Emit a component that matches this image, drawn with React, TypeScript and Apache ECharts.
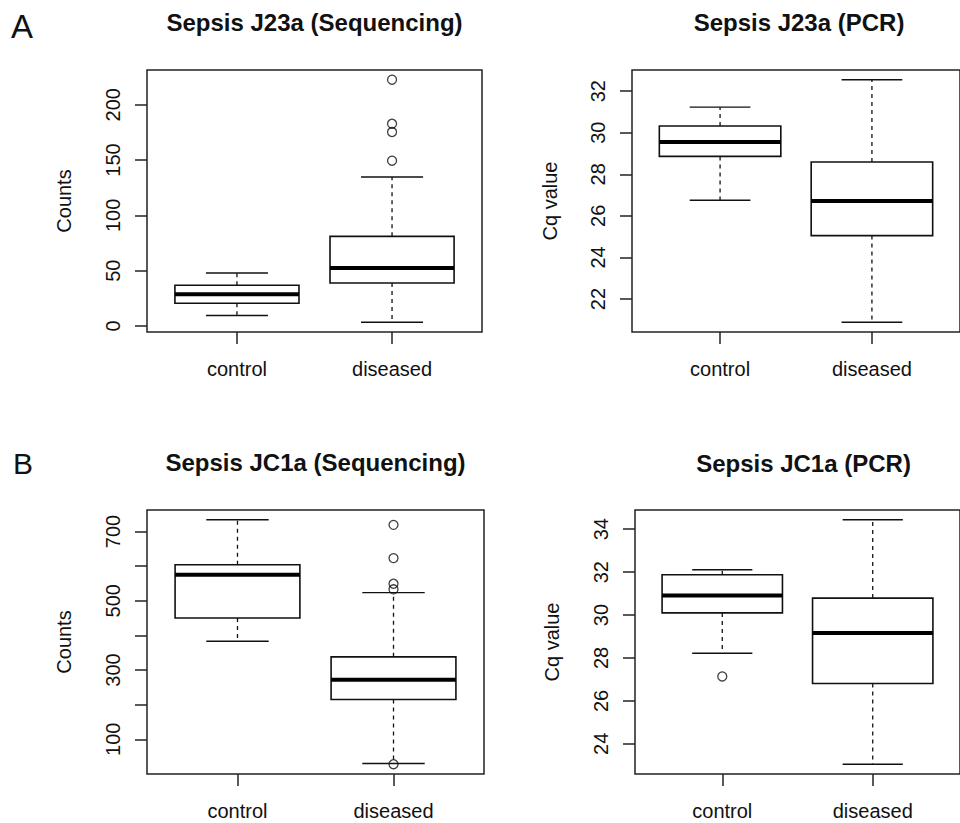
import React, { useEffect, useRef } from "react";
import * as echarts from "echarts";

// ---------- data ----------
const categories = ["control", "diseased"];

// [min whisker, Q1, median, Q3, max whisker] per category
const j23aSeqStats = [
  [9.4, 20.5, 28.6, 36.8, 47.9],
  [3.3, 38.8, 52.4, 81.0, 134.6],
];
const j23aSeqOutliers = [[], [222.6, 182.8, 175.3, 149.4]];
const j23aSeqTicks = [0, 50, 100, 150, 200];
const j23aSeqLabels = [0, 50, 100, 150, 200];

const j23aPcrStats = [
  [26.75, 28.86, 29.55, 30.32, 31.23],
  [20.88, 25.05, 26.71, 28.59, 32.55],
];
const j23aPcrOutliers = [[], []];
const j23aPcrTicks = [22, 24, 26, 28, 30, 32];
const j23aPcrLabels = [22, 24, 26, 28, 30, 32];

const jc1aSeqStats = [
  [383, 450, 575, 604, 733.7],
  [30, 215, 271.7, 338, 523.5],
];
const jc1aSeqOutliers = [[], [719, 623, 549, 533, 28]];
const jc1aSeqTicks = [100, 200, 300, 400, 500, 600, 700];
const jc1aSeqLabels = [100, 300, 500, 700];

const jc1aPcrStats = [
  [28.22, 30.1, 30.91, 31.88, 32.11],
  [23.05, 26.81, 29.16, 30.79, 34.44],
];
const jc1aPcrOutliers = [[27.14], []];
const jc1aPcrTicks = [24, 26, 28, 30, 32, 34];
const jc1aPcrLabels = [24, 26, 28, 30, 32, 34];

const categoryTicks = [1, 2];

const panelTitles = [
  "Sepsis J23a (Sequencing)",
  "Sepsis J23a (PCR)",
  "Sepsis JC1a (Sequencing)",
  "Sepsis JC1a (PCR)",
];
const yNames = ["Counts", "Cq value", "Counts", "Cq value"];
const panelLetters = ["A", "B"];

// ---------- layout ----------
const FONT = '"Liberation Sans", Arial, Helvetica, sans-serif';
const TICK_LEN = 12;
const grids = [
  { left: 147, top: 70, width: 335, height: 262, nameGap: 73, titleX: 314.5, titleY: 22 },
  { left: 632, top: 70, width: 335, height: 262, nameGap: 72, titleX: 799, titleY: 22 },
  { left: 147, top: 510, width: 337, height: 264, nameGap: 73, titleX: 315.5, titleY: 462 },
  { left: 635, top: 510, width: 337, height: 264, nameGap: 73, titleX: 803.5, titleY: 463 },
];

const panels = [
  { stats: j23aSeqStats, outliers: j23aSeqOutliers, ticks: j23aSeqTicks, labels: j23aSeqLabels },
  { stats: j23aPcrStats, outliers: j23aPcrOutliers, ticks: j23aPcrTicks, labels: j23aPcrLabels },
  { stats: jc1aSeqStats, outliers: jc1aSeqOutliers, ticks: jc1aSeqTicks, labels: jc1aSeqLabels },
  { stats: jc1aPcrStats, outliers: jc1aPcrOutliers, ticks: jc1aPcrTicks, labels: jc1aPcrLabels },
];

function rRange(stats: number[][], outliers: number[][]): [number, number] {
  const all: number[] = [];
  stats.forEach((s) => all.push(...s));
  outliers.forEach((o) => all.push(...o));
  const lo = Math.min(...all);
  const hi = Math.max(...all);
  const ext = (hi - lo) * 0.04;
  return [lo - ext, hi + ext];
}

function renderBox(params: any, api: any) {
  const x = api.value(0);
  const pMin = api.coord([x, api.value(1)]);
  const pQ1 = api.coord([x, api.value(2)]);
  const pMed = api.coord([x, api.value(3)]);
  const pQ3 = api.coord([x, api.value(4)]);
  const pMax = api.coord([x, api.value(5)]);
  const halfW = api.size([0.4, 0])[0];
  const capHalf = api.size([0.2, 0])[0];
  const cx = pMed[0];
  const solid = { stroke: "#111", lineWidth: 1.4, fill: null };
  const dashed = { stroke: "#111", lineWidth: 1.3, lineDash: [4, 4], fill: null };
  return {
    type: "group",
    children: [
      { type: "line", shape: { x1: cx, y1: pQ1[1], x2: cx, y2: pMin[1] }, style: dashed },
      { type: "line", shape: { x1: cx, y1: pQ3[1], x2: cx, y2: pMax[1] }, style: dashed },
      { type: "line", shape: { x1: cx - capHalf, y1: pMin[1], x2: cx + capHalf, y2: pMin[1] }, style: solid },
      { type: "line", shape: { x1: cx - capHalf, y1: pMax[1], x2: cx + capHalf, y2: pMax[1] }, style: solid },
      {
        type: "rect",
        shape: { x: cx - halfW, y: pQ3[1], width: halfW * 2, height: pQ1[1] - pQ3[1] },
        style: { stroke: "#111", lineWidth: 1.6, fill: "#fff" },
      },
      {
        type: "line",
        shape: { x1: cx - halfW, y1: pMed[1], x2: cx + halfW, y2: pMed[1] },
        style: { stroke: "#000", lineWidth: 4 },
      },
    ],
  };
}

export default function App() {
  const ref = useRef<HTMLDivElement>(null);

  useEffect(() => {
    if (!ref.current) return;
    const chart = echarts.init(ref.current, null, { renderer: "svg" });

    const gridOpts: any[] = [];
    const xAxes: any[] = [];
    const yAxes: any[] = [];
    const series: any[] = [];
    const graphics: any[] = [];

    panels.forEach((p, i) => {
      const g = grids[i];
      gridOpts.push({
        left: g.left,
        top: g.top,
        width: g.width,
        height: g.height,
        show: true,
        borderColor: "#222",
        borderWidth: 1.5,
      });
      xAxes.push({
        type: "value",
        gridIndex: i,
        min: 0.42,
        max: 2.58,
        axisLine: { show: false, onZero: false },
        splitLine: { show: false },
        axisTick: {
          show: true,
          length: TICK_LEN,
          lineStyle: { color: "#222", width: 1.5 },
          customValues: categoryTicks,
        },
        axisLabel: {
          show: true,
          margin: 27,
          color: "#111",
          fontFamily: FONT,
          fontSize: 20,
          customValues: categoryTicks,
          formatter: (v: number) => categories[Math.round(v) - 1] ?? "",
        },
      });
      const [ymin, ymax] = rRange(p.stats, p.outliers);
      yAxes.push({
        type: "value",
        gridIndex: i,
        min: ymin,
        max: ymax,
        name: yNames[i],
        nameLocation: "middle",
        nameRotate: 90,
        nameGap: g.nameGap,
        nameTextStyle: { fontFamily: FONT, fontSize: 20, color: "#111" },
        axisLine: { show: false, onZero: false },
        splitLine: { show: false },
        axisTick: {
          show: true,
          length: TICK_LEN,
          lineStyle: { color: "#222", width: 1.5 },
          customValues: p.ticks,
        },
        axisLabel: {
          show: true,
          rotate: 90,
          margin: 24,
          color: "#111",
          fontFamily: FONT,
          fontSize: 20,
          customValues: p.labels,
          formatter: (v: number) => String(v),
        },
      });
      series.push({
        type: "custom",
        xAxisIndex: i,
        yAxisIndex: i,
        renderItem: renderBox,
        clip: false,
        encode: { x: 0, y: [1, 2, 3, 4, 5] },
        data: p.stats.map((s, k) => [k + 1, ...s]),
      });
      const pts: number[][] = [];
      p.outliers.forEach((arr, k) => arr.forEach((v) => pts.push([k + 1, v])));
      series.push({
        type: "scatter",
        xAxisIndex: i,
        yAxisIndex: i,
        symbol: "circle",
        symbolSize: 9,
        itemStyle: { color: "transparent", borderColor: "#111", borderWidth: 1.3 },
        data: pts,
        z: 5,
      });
      graphics.push({
        type: "text",
        x: g.titleX,
        y: g.titleY,
        style: {
          text: panelTitles[i],
          fontFamily: FONT,
          fontSize: 24,
          fontWeight: "bold",
          fill: "#111",
          align: "center",
          verticalAlign: "middle",
        },
      });
    });

    graphics.push({
      type: "text",
      x: 22,
      y: 26,
      style: { text: panelLetters[0], fontFamily: FONT, fontSize: 33, fill: "#111", align: "center", verticalAlign: "middle" },
    });
    graphics.push({
      type: "text",
      x: 23,
      y: 463,
      style: { text: panelLetters[1], fontFamily: FONT, fontSize: 30, fill: "#111", align: "center", verticalAlign: "middle" },
    });

    chart.setOption({
      animation: false,
      backgroundColor: "#fff",
      grid: gridOpts,
      xAxis: xAxes,
      yAxis: yAxes,
      series,
      graphic: graphics,
    });

    return () => chart.dispose();
  }, []);

  return (
    <div
      ref={ref}
      style={{ position: "absolute", left: 0, top: 0, width: 960, height: 823, background: "#fff" }}
    />
  );
}
